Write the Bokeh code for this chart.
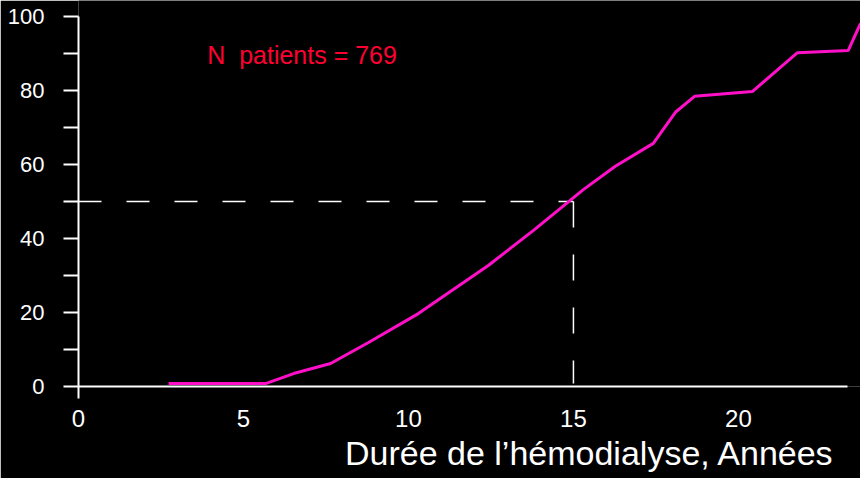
from bokeh.plotting import figure
from bokeh.models import FixedTicker, Label, Range1d, Title
from bokeh.embed import file_html
from bokeh.resources import INLINE

# Data
duree = [2.73, 5.67, 6.52, 7.64, 8.79, 10.3, 12.42, 13.79, 15.3, 16.27,
         17.42, 18.09, 18.67, 20.42, 21.79, 23.33, 23.7]
pct = [0.8, 0.8, 3.5, 6.2, 11.9, 19.7, 32.7, 42.2, 53.2, 59.5,
       65.7, 74.1, 78.4, 79.7, 90.2, 90.8, 98.1]
median_x = 15
median_y = 50
y_ticks = [0, 20, 40, 60, 80, 100]
y_minor = [10, 30, 50, 70, 90]
x_ticks = [0, 5, 10, 15, 20]
x_minor = [0]
n_text = "N\u00a0 patients = 769"
x_title = "Durée de l’hémodialyse, Années"

FONT = "Liberation Sans"

p = figure(width=860, height=478,
           x_range=Range1d(0, 23.7), y_range=Range1d(0, 104.3),
           output_backend="svg", toolbar_location=None,
           min_border_left=78, min_border_right=0,
           min_border_top=0, min_border_bottom=92,
           background_fill_color="black", border_fill_color="black",
           outline_line_color=None)
p.grid.visible = False

# y axis
ya = p.yaxis[0]
ya.ticker = FixedTicker(ticks=y_ticks, minor_ticks=y_minor)
ya.bounds = (0, 100)
ya.axis_line_color = "white"
ya.axis_line_width = 2
ya.major_tick_line_color = "white"
ya.major_tick_line_width = 2
ya.major_tick_out = 15
ya.major_tick_in = 0
ya.minor_tick_line_color = "white"
ya.minor_tick_line_width = 2
ya.minor_tick_out = 15
ya.minor_tick_in = 0
ya.major_label_text_color = "white"
ya.major_label_text_font = FONT
ya.major_label_text_font_size = "22px"
ya.major_label_standoff = 19

# x axis
xa = p.xaxis[0]
xa.ticker = FixedTicker(ticks=x_ticks, minor_ticks=x_minor)
xa.bounds = (0, 23.3)
xa.axis_line_color = "white"
xa.axis_line_width = 2
xa.major_tick_line_color = None
xa.major_tick_out = 0
xa.major_tick_in = 0
xa.minor_tick_line_color = "white"
xa.minor_tick_line_width = 2
xa.minor_tick_out = 12
xa.minor_tick_in = 0
xa.major_label_text_color = "white"
xa.major_label_text_font = FONT
xa.major_label_text_font_size = "24px"
xa.major_label_standoff = 11

# x axis title, right aligned below the tick labels
p.add_layout(Title(text=x_title, align="right", offset=26, standoff=5,
                   text_color="white", text_font=FONT,
                   text_font_size="34px", text_font_style="normal"), "below")

# dashed median guides
p.line([0, median_x], [median_y, median_y], line_color="white",
       line_width=1.5, line_dash="23 25")
p.line([median_x, median_x], [median_y, 0.8], line_color="white",
       line_width=1.5, line_dash="26 27")

# curve
p.line(duree, pct, line_color="#ff10c8", line_width=3)

p.add_layout(Label(x=3.9, y=89.7, text=n_text, text_color="#ff0033",
                   text_font=FONT, text_font_size="25px",
                   text_baseline="alphabetic", text_align="left"))

html = file_html(p, INLINE)
open("out.html", "w").write(html)
